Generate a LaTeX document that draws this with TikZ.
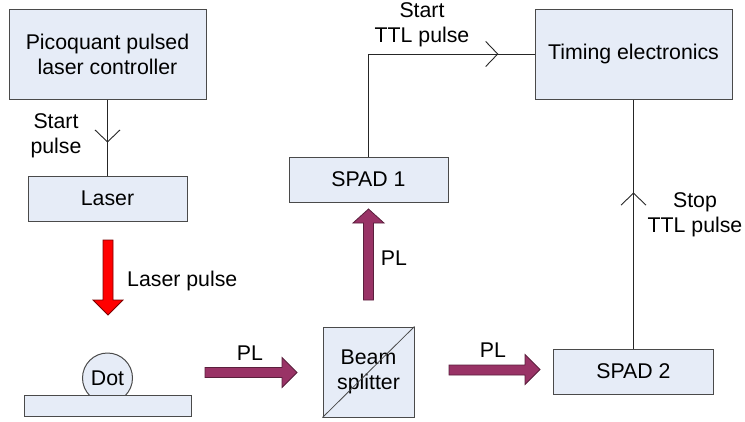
\documentclass[tikz,border=0pt]{standalone}
\usepackage{fontspec}
\setmainfont{Liberation Sans}
\usetikzlibrary{decorations.markings}
\definecolor{boxfill}{HTML}{E6ECF7}
\definecolor{boxline}{HTML}{4A4A4A}
\definecolor{plfill}{HTML}{993366}
\definecolor{plline}{HTML}{5A1F3C}
\definecolor{redfill}{HTML}{FF0000}
\definecolor{redline}{HTML}{7A0000}
\tikzset{
  box/.style={draw=boxline, fill=boxfill, line width=1pt, inner sep=0pt, align=center,
    font=\fontsize{21.3}{25}\selectfont},
  lbl/.style={inner sep=0pt, align=center, font=\fontsize{21.3}{25}\selectfont},
  wire/.style={draw=black!85, line width=0.9pt},
  chev/.style={postaction={decorate, decoration={markings,
      mark=at position #1 with {\draw[black!85, line width=0.9pt] (-12,12.5) -- (0,0) -- (-12,-12.5);}}}},
  plarrow/.style={fill=plfill, draw=plline, line width=0.8pt},
  redarrow/.style={fill=redfill, draw=redline, line width=0.8pt},
}
\begin{document}
\begin{tikzpicture}[x=1pt, y=-1pt]
\useasboundingbox (0,0) rectangle (745,421);

% boxes
\node[box, minimum width=197pt, minimum height=90pt] (ctrl) at (107.5,54) {Picoquant pulsed\\laser controller};
\node[box, minimum width=159pt, minimum height=45pt] (laser) at (107.5,198.5) {Laser};
\node[box, minimum width=197pt, minimum height=90pt] (timing) at (633.5,54) {Timing electronics};
\node[box, minimum width=159pt, minimum height=45pt] (spad1) at (368.5,179.5) {SPAD 1};
\node[box, minimum width=160pt, minimum height=45pt] (spad2) at (633.5,371.5) {SPAD 2};
\node[box, minimum width=91pt, minimum height=90pt] (bs) at (368.5,372) {Beam\\splitter};
\draw[boxline, line width=0.8pt] (bs.south west) -- (bs.north east);

% dot on substrate
\node[box, circle, minimum size=50pt] (dot) at (107.5,378) {};
\node[box, minimum width=167pt, minimum height=21pt] (sub) at (107.5,405.5) {};
\node[lbl] at (dot.center) {Dot};

% wires
\draw[wire, chev=0.558] (ctrl.south) -- (laser.north);
\draw[wire, chev=0.863] (spad1.north) |- (timing.west);
\draw[wire, chev=0.624] (spad2.north) -- (timing.south);

% wire labels
\node[lbl] (lstart) at (56,136) {Start\\pulse};
\node[lbl] (lttl) at (422,25) {Start\\TTL pulse};
\node[lbl] (lstop) at (695,215) {Stop\\TTL pulse};

% red laser arrow
\draw[redarrow] (103,240) -- (113,240) -- (113,300) -- (123,300) -- (108,315) -- (93,300) -- (103,300) -- cycle;
\node[lbl, anchor=west] (llp) at (127,281) {Laser pulse};

% PL arrows
\draw[plarrow] (205,367.5) -- (282,367.5) -- (282,357.5) -- (297,372.5) -- (282,387.5) -- (282,377.5) -- (205,377.5) -- cycle;
\node[lbl] (pl1) at (250,353) {PL};

\draw[plarrow] (449,365) -- (525,365) -- (525,354.5) -- (540,369.5) -- (525,384.5) -- (525,375) -- (449,375) -- cycle;
\node[lbl] (pl2) at (493,350) {PL};

\draw[plarrow] (363.5,300) -- (363.5,223) -- (353,223) -- (368.5,209) -- (384,223) -- (373.5,223) -- (373.5,300) -- cycle;
\node[lbl] (pl3) at (394,258) {PL};

\end{tikzpicture}
\end{document}
